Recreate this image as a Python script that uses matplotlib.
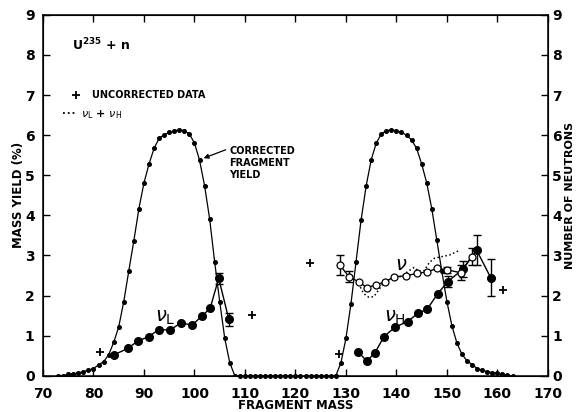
import matplotlib
matplotlib.use("Agg")
import matplotlib.pyplot as plt
import numpy as np

# ---- data ----
light_mass = [73, 74, 75, 76, 77, 78, 79, 80, 81, 82, 83, 84, 85, 86, 87, 88, 89, 90, 91, 92, 93, 94, 95,
              96, 97, 98, 99, 100, 101, 102, 103, 104, 105, 106, 107, 108]
light_yield = [0.0, 0.0, 0.04, 0.05, 0.07, 0.10, 0.14, 0.18, 0.27, 0.35, 0.52, 0.83, 1.22, 1.85, 2.62, 3.37,
               4.17, 4.81, 5.28, 5.67, 5.92, 6.01, 6.07, 6.10, 6.14, 6.11, 6.03, 5.80, 5.38, 4.74, 3.92,
               2.84, 1.85, 0.93, 0.32, 0.0]
zero_mass = [109, 110, 111, 112, 113, 114, 115, 116, 117, 118, 119, 120, 121, 122, 123, 124, 125, 126, 127, 128]
zero_yield = [0.0] * 20
heavy_mass = [128, 129, 130, 131, 132, 133, 134, 135, 136, 137, 138, 139, 140, 141, 142, 143, 144, 145, 146,
              147, 148, 149, 150, 151, 152, 153, 154, 155, 156, 157, 158, 159, 160, 161, 162, 163]
heavy_yield = [0.0, 0.32, 0.93, 1.80, 2.84, 3.88, 4.73, 5.38, 5.80, 6.03, 6.11, 6.13, 6.11, 6.07, 6.00, 5.88,
               5.67, 5.28, 4.81, 4.17, 3.38, 2.60, 1.85, 1.24, 0.81, 0.53, 0.37, 0.28, 0.18, 0.14, 0.10,
               0.08, 0.06, 0.04, 0.01, 0.0]

nuL_mass = [84.0, 86.8, 88.8, 90.9, 92.9, 95.1, 97.4, 99.5, 101.5, 103.1, 104.8, 106.8]
nuL_val = [0.52, 0.68, 0.87, 0.97, 1.15, 1.14, 1.32, 1.26, 1.49, 1.68, 2.43, 1.41]
nuL_err_mass = [104.8, 106.8]
nuL_err_val = [2.43, 1.41]
nuL_err = [0.14, 0.16]

nu_mass = [128.8, 130.6, 132.6, 134.1, 135.9, 137.7, 139.6, 141.8, 144.0, 146.1, 148.1, 150.1, 152.7, 154.9]
nu_val = [2.76, 2.47, 2.34, 2.20, 2.26, 2.34, 2.47, 2.49, 2.55, 2.59, 2.68, 2.64, 2.57, 2.97]
nu_err_mass = [128.8, 130.6, 150.1, 152.7, 154.9]
nu_err_val = [2.76, 2.47, 2.64, 2.57, 2.97]
nu_err = [0.25, 0.13, 0.08, 0.18, 0.22]

nuH_mass = [132.4, 134.1, 135.7, 137.5, 139.7, 142.2, 144.3, 146.1, 148.2, 150.2, 153.1, 155.9, 158.7]
nuH_val = [0.60, 0.37, 0.56, 0.97, 1.21, 1.35, 1.56, 1.66, 2.05, 2.35, 2.65, 3.13, 2.44]
nuH_err_mass = [150.2, 153.1, 155.9, 158.7]
nuH_err_val = [2.35, 2.65, 3.13, 2.44]
nuH_err = [0.13, 0.2, 0.37, 0.46]

sum_mass = [132.5, 133.5, 134.5, 135.5, 136.5, 137.5, 139.0, 141.0, 142.5, 143.5, 144.5, 145.5, 146.5, 147.5,
            149.0, 150.5, 152.4]
sum_val = [2.30, 2.05, 1.96, 1.97, 2.14, 2.33, 2.42, 2.48, 2.62, 2.70, 2.60, 2.62, 2.82, 2.93, 2.97, 3.01, 3.12]

unc_mass = [81.3, 111.3, 122.8, 128.6, 161.2]
unc_val = [0.58, 1.51, 2.80, 0.54, 2.14]

x_ticks = [70, 80, 90, 100, 110, 120, 130, 140, 150, 160, 170]
y_ticks = [0, 1, 2, 3, 4, 5, 6, 7, 8, 9]

# ---- plot ----
plt.rcParams['font.family'] = ['DejaVu Sans']
fig = plt.figure(figsize=(5.81, 4.12), dpi=100)
ax = fig.add_axes([0.074, 0.088, 0.869, 0.876])

k = 'black'
ax.plot(light_mass, light_yield, '-', color=k, lw=0.9, marker='o', ms=2.6, zorder=3)
ax.plot(zero_mass, zero_yield, 'o', color=k, ms=2.6, zorder=3, clip_on=False)
ax.plot(heavy_mass, heavy_yield, '-', color=k, lw=0.9, marker='o', ms=2.6, zorder=3)

ax.plot(nuL_mass, nuL_val, '-', color=k, lw=1.0, marker='o', ms=5.5, zorder=4)
ax.errorbar(nuL_err_mass, nuL_err_val, yerr=nuL_err, fmt='none', ecolor=k, elinewidth=1.0, capsize=3, zorder=4)

ax.plot(sum_mass, sum_val, ':', color=k, lw=1.1, zorder=3)

ax.plot(nu_mass, nu_val, '-', color=k, lw=1.0, marker='o', ms=5, mfc='white', mec=k, mew=0.9, zorder=5)
ax.errorbar(nu_err_mass, nu_err_val, yerr=nu_err, fmt='none', ecolor=k, elinewidth=1.0, capsize=3, zorder=4)

ax.plot(nuH_mass, nuH_val, '-', color=k, lw=1.0, marker='o', ms=5.5, zorder=4)
ax.errorbar(nuH_err_mass, nuH_err_val, yerr=nuH_err, fmt='none', ecolor=k, elinewidth=1.0, capsize=3, zorder=4)

ax.plot(unc_mass, unc_val, '+', color=k, ms=6, mew=1.3, zorder=4)

ax.set_xlim(70, 170)
ax.set_ylim(0, 9)
ax.set_xticks(x_ticks)
ax.set_yticks(y_ticks)
ax.set_xticklabels([str(v) for v in x_ticks], fontsize=10, fontweight='bold')
ax.set_yticklabels([str(v) for v in y_ticks], fontsize=10, fontweight='bold')
ax.tick_params(direction='in', length=5, width=1, top=True, right=False)
ax.tick_params(axis='x', pad=8)
ax.tick_params(axis='y', pad=6)
for s in ax.spines.values():
    s.set_linewidth(1.1)

ax2 = ax.twinx()
ax2.set_ylim(0, 9)
ax2.set_yticks(y_ticks)
ax2.set_yticklabels([str(v) for v in y_ticks], fontsize=10, fontweight='bold')
ax2.tick_params(direction='in', length=5, width=1, pad=3)
ax2.set_ylabel('NUMBER OF NEUTRONS', fontsize=8, fontweight='bold', labelpad=2)

ax.set_xlabel('FRAGMENT MASS', fontsize=8.5, fontweight='bold', labelpad=-1)
ax.set_ylabel('MASS YIELD (%)', fontsize=8.5, fontweight='bold', labelpad=0)

# annotations
ax.text(75.8, 8.25, r'U$^{\mathbf{235}}$ + n', fontsize=9, fontweight='bold', va='center')
ax.plot([76.5], [7.0], '+', color=k, ms=6, mew=1.3)
ax.text(79.8, 7.0, 'UNCORRECTED DATA', fontsize=7, fontweight='bold', va='center')
ax.plot([74.0, 76.4], [6.55, 6.55], ':', color=k, lw=1.3)
ax.text(77.6, 6.52, r'$\nu_{\rm L}$ + $\nu_{\rm H}$', fontsize=8, fontweight='bold', va='center')

ax.text(106.9, 5.73, 'CORRECTED\nFRAGMENT\nYIELD', fontsize=7, fontweight='bold', va='top',
        linespacing=1.25)
ax.annotate('', xy=(101.3, 5.40), xytext=(106.7, 5.66),
            arrowprops=dict(arrowstyle='-|>', color=k, lw=0.9, mutation_scale=7))

ax.text(94.2, 1.45, r'$\nu_{\rm L}$', fontsize=14, va='center', ha='center')
ax.text(139.8, 1.45, r'$\nu_{\rm H}$', fontsize=14, va='center', ha='center')
ax.text(141.0, 2.78, r'$\nu$', fontsize=14, va='center', ha='center')

fig.savefig('out.png', dpi=100)
